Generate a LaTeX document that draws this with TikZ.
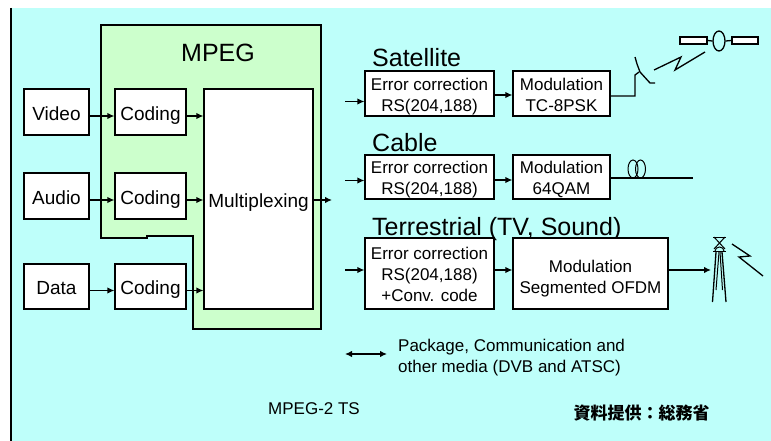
\documentclass[tikz,border=0pt]{standalone}
\usepackage{fontspec}
\setmainfont{Liberation Sans}
\newfontfamily\cjk{Noto Sans CJK JP}
\usetikzlibrary{arrows.meta,shapes.geometric}
\definecolor{bgcyan}{RGB}{190,255,250}
\definecolor{mpeggreen}{RGB}{204,255,204}
\newcommand{\btxt}[2][7.2pt]{\raisebox{-#1}[0pt][0pt]{\begin{tabular}{@{}c@{}}#2\end{tabular}}}
\begin{document}
\begin{tikzpicture}[x=1pt,y=-1pt,
  box/.style={draw=black, fill=white, line width=1.3pt, inner sep=0pt},
  lbl/.style={font=\fontsize{19}{21}\selectfont},
  sml/.style={font=\fontsize{17}{21}\selectfont},
  big/.style={font=\fontsize{25}{28}\selectfont, inner sep=0pt},
  arr/.style={line width=1.3pt, -{Latex[length=7pt,width=6.5pt]}},
  darr/.style={line width=1.3pt, {Latex[length=7pt,width=6.5pt]}-{Latex[length=7pt,width=6.5pt]}},
  wire/.style={line width=1.3pt},
  thin/.style={line width=1pt},
  ]
\useasboundingbox (0,0) rectangle (771,441);
\fill[white] (0,0) rectangle (771,441);
\fill[bgcyan] (11,8) rectangle (771,441);
\draw[line width=1.6pt] (11,8) -- (11,441);

% MPEG region
\draw[fill=mpeggreen, line width=1.3pt] (101,25) -- (321,25) -- (321,329) -- (193,329) -- (193,236) -- (147,236) -- (147,238) -- (101,238) -- cycle;
\node[big, anchor=base] (mpeg) at (218,61.5) {MPEG};

% Inputs
\node[box, lbl, minimum width=65pt, minimum height=46pt] (video) at (56.5,112) {\btxt[8.4pt]{Video}};
\node[box, lbl, minimum width=65pt, minimum height=46pt] (audio) at (56.5,196) {\btxt[8.4pt]{Audio}};
\node[box, lbl, minimum width=65pt, minimum height=45pt] (data) at (56.5,286.5) {\btxt[8.4pt]{Data}};
\node[box, lbl, minimum width=71pt, minimum height=46pt] (cod1) at (150.5,112) {\btxt[8.4pt]{Coding}};
\node[box, lbl, minimum width=71pt, minimum height=46pt] (cod2) at (150.5,196) {\btxt[8.4pt]{Coding}};
\node[box, lbl, minimum width=71pt, minimum height=45pt] (cod3) at (150.5,286.5) {\btxt[8.4pt]{Coding}};
\node[box, lbl, minimum width=109pt, minimum height=220pt] (mux) at (258.5,199) {\btxt[8.4pt]{Multiplexing}};

\draw[arr] ([yshift=-4pt]video.east) -- ([yshift=-4pt]cod1.west);
\draw[arr] ([yshift=-4pt]audio.east) -- ([yshift=-4pt]cod2.west);
\draw[arr] ([yshift=-4pt]data.east) -- ([yshift=-4pt]cod3.west);
\coordinate (c1o) at ([yshift=-4pt]cod1.east);
\coordinate (c2o) at ([yshift=-4pt]cod2.east);
\coordinate (c3o) at ([yshift=-4pt]cod3.east);
\draw[arr] (c1o) -- (c1o -| mux.west);
\draw[arr] (c2o) -- (c2o -| mux.west);
\draw[arr] (c3o) -- (c3o -| mux.west);
\coordinate (muxout) at (332,200);
\draw[arr] (mux.east |- muxout) -- (muxout);

% Satellite
\node[big, anchor=base west] (satl) at (372,66.5) {Satellite};
\node[box, sml, minimum width=129pt, minimum height=45pt] (ec1) at (429.5,93.5) {\btxt{Error correction\\RS(204,188)}};
\node[box, sml, minimum width=97pt, minimum height=45pt] (mod1) at (561.5,93.5) {\btxt{Modulation\\TC-8PSK}};
\coordinate (in1) at (345,101.5);
\draw[arr] (in1) -- (ec1.west |- in1);
\draw[arr] ([yshift=-1.5pt]ec1.east) -- ([yshift=-1.5pt]mod1.west);
\coordinate (feed) at (635,75);
\coordinate (m1o) at ([yshift=-2.5pt]mod1.east);
\draw[wire] (m1o) -- (m1o -| feed) -- (feed) -- (639,72);
\draw[wire] (635,57) -- (637,64) -- (640,72) -- (650,83) -- (655,83);
\draw[wire] (654,70) -- (681,57) -- (675,70) -- (705,52);
\node[draw, line width=1.3pt, fill=white, minimum width=27pt, minimum height=7pt, inner sep=0pt] (panl) at (693.5,40.5) {};
\node[draw, line width=1.3pt, fill=white, minimum width=26pt, minimum height=7pt, inner sep=0pt] (panr) at (745,40.5) {};
\node[draw, line width=1.3pt, ellipse, minimum width=12pt, minimum height=20pt, inner sep=0pt] (body) at (719,41) {};
\draw[wire] (panl.east) -- (body.west);
\draw[wire] (body.east) -- (panr.west);

% Cable
\node[big, anchor=base west] (cabl) at (372,151) {Cable};
\node[box, sml, minimum width=129pt, minimum height=44pt] (ec2) at (429.5,177) {\btxt{Error correction\\RS(204,188)}};
\node[box, sml, minimum width=97pt, minimum height=44pt] (mod2) at (561.5,177) {\btxt{Modulation\\64QAM}};
\coordinate (in2) at (345,180.5);
\draw[arr] (in2) -- (ec2.west |- in2);
\draw[arr] ([yshift=-3pt]ec2.east) -- ([yshift=-3pt]mod2.west);
\coordinate (cabend) at (693,178);
\draw[wire] (mod2.east |- cabend) -- (cabend);
\draw[thin] (633,169) ellipse [x radius=5, y radius=9];
\draw[thin] (640.5,169) ellipse [x radius=5, y radius=9];

% Terrestrial
\node[big, anchor=base west] (terl) at (372,235) {Terrestrial (TV, Sound)};
\node[box, sml, minimum width=129pt, minimum height=71pt] (ec3) at (429.5,273.5) {\btxt{Error correction\\RS(204,188)\\+Conv. code}};
\node[box, sml, minimum width=155pt, minimum height=71pt] (mod3) at (590.5,273.5) {\btxt[9.2pt]{Modulation\\Segmented OFDM}};
\coordinate (in3) at (345,270);
\draw[arr] (in3) -- (ec3.west |- in3);
\draw[arr] (ec3.east |- in3) -- (mod3.west |- in3);
\coordinate (tow) at (711,270);
\draw[arr] (mod3.east |- tow) -- (tow);
% tower
\draw[thin] (713,237) -- (726,237);
\draw[thin] (714,237) -- (725,249);
\draw[thin] (725,237) -- (714,249);
\draw[thin] (713,251) -- (726,251);
\draw[thin] (715,251) arc[start angle=180, end angle=0, x radius=4.5, y radius=-4];
\draw[wire] (716,252) -- (712.5,302);
\draw[thin] (719,252) -- (716,290);
\draw[wire] (722,252) -- (726,302);
\draw[thin] (720,252) -- (722.5,290);
\draw[wire] (732,244) -- (750,256) -- (739,257) -- (763,276);

% Legend
\coordinate (la) at (345,354);
\coordinate (lb) at (387,354);
\draw[darr] (la) -- (lb);
\node[sml, anchor=west, align=left, inner sep=0pt] (legend) at (398,358) {Package, Communication and\\other media (DVB and ATSC)};

\node[sml, inner sep=0pt] (ts) at (314,409) {MPEG-2 TS};
\node[inner sep=0pt, font=\cjk\bfseries\fontsize{17}{20}\selectfont] (src) at (641.5,413) {資料提供：総務省};
\end{tikzpicture}
\end{document}
